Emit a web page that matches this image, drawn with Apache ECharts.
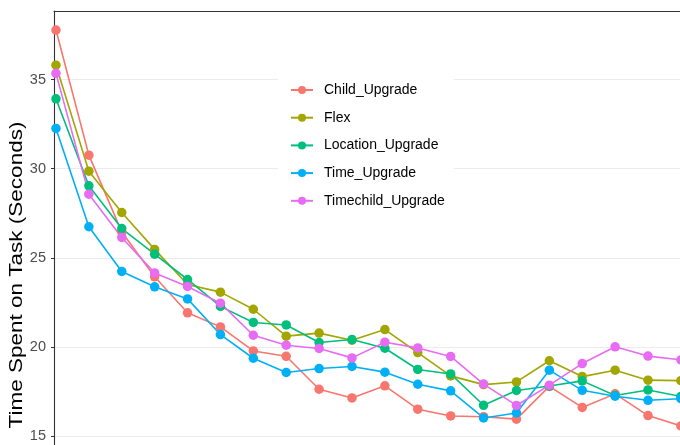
<!DOCTYPE html>
<html>
<head>
<meta charset="utf-8">
<script src="https://cdn.jsdelivr.net/npm/echarts@6/dist/echarts.min.js"></script>
<style>
  html, body { margin: 0; padding: 0; background: #fff; }
  #chart { width: 680px; height: 445px; }
</style>
</head>
<body>
<div id="chart"></div>
<script>
var trials = [1, 2, 3, 4, 5, 6, 7, 8, 9, 10, 11, 12, 13, 14, 15, 16, 17, 18, 19, 20];

var childUpgrade = [37.78, 30.76, 26.45, 23.93, 21.91, 21.12, 19.77, 19.47, 17.62, 17.13,
                    17.81, 16.5, 16.12, 16.08, 15.94, 17.78, 16.6, 17.36, 16.14, 15.56];
var flex = [35.81, 29.86, 27.54, 25.47, 23.5, 23.07, 22.11, 20.6, 20.77, 20.37,
            20.97, 19.68, 18.37, 17.88, 18.03, 19.22, 18.33, 18.69, 18.13, 18.1];
var locationUpgrade = [33.92, 29.04, 26.64, 25.2, 23.78, 22.27, 21.37, 21.23, 20.24, 20.41,
                       19.92, 18.73, 18.48, 16.72, 17.55, 17.8, 18.09, 17.27, 17.58, 17.22];
var timeUpgrade = [32.26, 26.74, 24.23, 23.37, 22.69, 20.69, 19.36, 18.56, 18.78, 18.9,
                   18.58, 17.9, 17.53, 16.01, 16.29, 18.69, 17.56, 17.23, 17.0, 17.09];
var timechildUpgrade = [35.35, 28.57, 26.14, 24.15, 23.39, 22.45, 20.65, 20.09, 19.91, 19.38,
                        20.26, 19.94, 19.46, 17.91, 16.71, 17.85, 19.06, 20.0, 19.48, 19.27];

var seriesNames = ['Child_Upgrade', 'Flex', 'Location_Upgrade', 'Time_Upgrade', 'Timechild_Upgrade'];
var seriesValues = [childUpgrade, flex, locationUpgrade, timeUpgrade, timechildUpgrade];
var colors = ['#F8766D', '#A3A500', '#00BF7D', '#00B0F6', '#E76BF3'];
var yLabels = [15, 20, 25, 30, 35];
var yTitle = 'Time Spent on Task (Seconds)';

var font = '"Liberation Sans", Arial, Helvetica, sans-serif';

var chart = echarts.init(document.getElementById('chart'), null, { renderer: 'canvas' });

var series = [];
for (var i = 0; i < seriesNames.length; i++) {
    var pts = [];
    for (var j = 0; j < trials.length; j++) {
        pts.push([trials[j], seriesValues[i][j]]);
    }
    series.push({
        name: seriesNames[i],
        type: 'line',
        data: pts,
        symbol: 'circle',
        symbolSize: 9.5,
        color: colors[i],
        lineStyle: { width: 1.6, color: colors[i] },
        itemStyle: { color: colors[i] },
        emphasis: { disabled: true },
        animation: false
    });
}

var option = {
    backgroundColor: '#fff',
    animation: false,
    textStyle: { fontFamily: font },
    grid: {
        left: 54,
        top: 11,
        right: -18,
        bottom: -80,
        outerBoundsMode: 'none'
    },
    // y title drawn as text so it can be stretched like the original
    graphic: [{
        type: 'text',
        x: 17,
        y: 275,
        rotation: Math.PI / 2,
        scaleX: 1.25,
        style: {
            text: yTitle,
            font: '18px ' + font,
            fill: '#000',
            align: 'center',
            verticalAlign: 'middle'
        }
    }],
    legend: {
        orient: 'vertical',
        left: 278,
        top: 70,
        data: seriesNames,
        backgroundColor: '#fff',
        padding: [12, 9, 12, 12],
        itemWidth: 22,
        itemHeight: 10,
        itemGap: 11.7,
        textStyle: {
            fontFamily: font,
            fontSize: 14,
            color: '#000',
            lineHeight: 16,
            padding: [0, 0, 0, 6]
        }
    },
    xAxis: [{
        type: 'value',
        min: 0.94,
        max: 20.52,
        axisLine: { show: false },
        axisTick: { show: false },
        axisLabel: { show: false },
        splitLine: { show: false }
    }, {
        type: 'value',
        position: 'top',
        min: 0.94,
        max: 20.52,
        axisLine: { show: true, lineStyle: { color: '#333', width: 1.1 } },
        axisTick: { show: false },
        axisLabel: { show: false },
        splitLine: { show: false }
    }],
    yAxis: {
        type: 'value',
        min: 10,
        max: 38.85,
        interval: 2.5,
        axisLine: { show: true, lineStyle: { color: '#333', width: 1.1 } },
        axisTick: {
            show: true,
            length: 3,
            customValues: yLabels,
            lineStyle: { color: '#333' }
        },
        axisLabel: {
            customValues: yLabels,
            margin: 8,
            fontSize: 14.5,
            color: '#4D4D4D',
            fontFamily: font,
            formatter: function (v) { return v % 5 === 0 ? String(v) : ''; }
        },
        splitLine: { show: true, lineStyle: { color: '#EBEBEB', width: 1.1 } }
    },
    series: series
};

chart.setOption(option);
</script>
</body>
</html>
